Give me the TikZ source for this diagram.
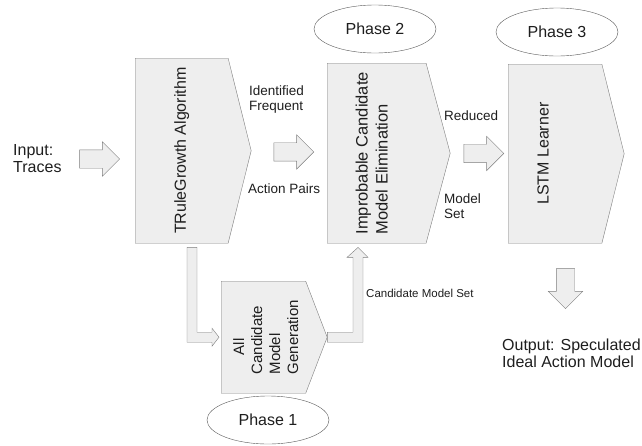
\documentclass[tikz,border=0pt]{standalone}
\usepackage{fontspec}
\setmainfont{Liberation Sans}
\usepackage{graphicx}
\usetikzlibrary{shapes.symbols,shapes.geometric,shapes.arrows,positioning,calc}

\definecolor{boxfill}{RGB}{238,238,238}
\definecolor{boxline}{RGB}{125,125,125}
\definecolor{txt}{RGB}{30,30,30}

\begin{document}
\begin{tikzpicture}[x=1pt,y=-1pt,
                    every node/.style={text=txt},
                    stage/.style={signal,signal to=east,draw=boxline,fill=boxfill,
                                  inner sep=0pt,anchor=north west},
                    phase/.style={ellipse,draw=black!65,fill=white,minimum width=122pt,
                                  minimum height=48pt,font=\fontsize{16}{19}\selectfont},
                    fatarrow/.style={single arrow,draw=boxline,fill=boxfill,inner sep=9pt,
                                     single arrow head extend=8pt,minimum height=40pt},
                    bent/.style={draw=boxline,fill=boxfill},
                    lbl/.style={align=left,inner sep=0pt,anchor=base west}]
  \useasboundingbox (0,0) rectangle (642,445);

  % the three phases
  \node[stage,signal pointer angle=152,minimum width=116pt,minimum height=185pt,
        font=\fontsize{16}{19}\selectfont] (tr) at (135,58)
        {\rotatebox{90}{TRuleGrowth Algorithm}};
  \node[stage,signal pointer angle=138,minimum width=106pt,minimum height=112pt,
        font=\fontsize{15}{18}\selectfont] (all) at (221,281)
        {\rotatebox{90}{\raisebox{-4pt}[\height][\depth]{\begin{tabular}{@{}l@{}}\hspace*{19pt}All\\Candidate\\Model\\Generation\end{tabular}}}};
  \node[stage,signal pointer angle=150,minimum width=123pt,minimum height=180pt,
        font=\fontsize{16.5}{20}\selectfont] (imp) at (327,63)
        {\rotatebox{90}{\raisebox{3pt}[\height][\depth]{\begin{tabular}{@{}l@{}}Improbable Candidate\\Model Elimination\end{tabular}}}};
  \node[stage,signal pointer angle=152,minimum width=116pt,minimum height=179pt,
        font=\fontsize{16}{19}\selectfont] (lstm) at (508,64)
        {\rotatebox{90}{\raisebox{12pt}[\height][\depth]{LSTM Learner}}};

  \node[phase] (p1) at (268,420) {Phase 1};
  \node[phase] (p2) at (375,29) {Phase 2};
  \node[phase] (p3) at (557,32) {Phase 3};

  % labels
  \node[lbl,font=\fontsize{16}{16.5}\selectfont] (input) at (13,172) {Input:\\Traces};
  \node[lbl,font=\fontsize{13.5}{15}\selectfont] (freq) at (249,110) {Identified\\Frequent};
  \node[lbl,font=\fontsize{13.5}{15}\selectfont] (pairs) at (248,193) {Action Pairs};
  \node[lbl,font=\fontsize{13.5}{15}\selectfont] (red) at (444,120) {Reduced};
  \node[lbl,font=\fontsize{13.5}{15}\selectfont] (mset) at (444,218) {Model\\Set};
  \node[lbl,font=\fontsize{11.5}{14}\selectfont] (cset) at (366,297) {Candidate Model Set};
  \node[lbl,font=\fontsize{16}{17}\selectfont] (out) at (502,367) {Output: Speculated\\Ideal Action Model};

  % block arrows
  \node[fatarrow] (a1) at (95,159) {};
  \node[fatarrow] (a2) at ($(tr.east)!0.5!(imp.west)$) {};
  \node[fatarrow] (a3) at ($(imp.east)!0.5!(lstm.west)$) {};
  \node[fatarrow,rotate=-90] (a4) at (565.5,284) {};

  \draw[bent] ($(tr.south west)+(52,4)$) -- ++(10,0) |- ($(all.west)+(-9,-5)$)
        -- ++(0,-4) -- ($(all.west)+(-2,0)$) -- ++(-7,9) -- ++(0,-4)
        -| ($(tr.south west)+(52,4)$) -- cycle;
  \draw[bent] ($(all.east)+(0,-5)$) -| ($(imp.south west)+(26,14)$) -- ++(-6,0)
        -- ($(imp.south west)+(31,4)$) -- ++(10,10) -- ++(-5,0)
        |- ($(all.east)+(0,5)$) -- cycle;
\end{tikzpicture}
\end{document}
